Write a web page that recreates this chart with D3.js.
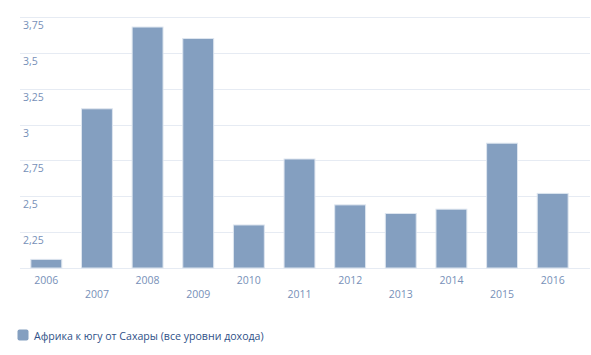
<!DOCTYPE html>
<html><head><meta charset="utf-8">
<script src="https://cdn.jsdelivr.net/npm/d3@7"></script>
<style>body{margin:0;background:#fff;} svg{display:block;font-family:"Open Sans",sans-serif;}</style>
</head><body>
<svg id="c" width="591" height="355"></svg>
<script>
const years = ["2006","2007","2008","2009","2010","2011","2012","2013","2014","2015","2016"];
const values = [2.06, 3.11, 3.68, 3.60, 2.30, 2.76, 2.44, 2.38, 2.41, 2.87, 2.52];
const yTicks = [2.25, 2.5, 2.75, 3, 3.25, 3.5, 3.75];
const seriesName = "Африка к югу от Сахары (все уровни дохода)";

const svg = d3.select("#c");
const y = d3.scaleLinear().domain([2, 3.75]).range([268, 17]);
const x = d3.scaleBand().domain(years).range([21, 578]).paddingInner(0.39).paddingOuter(0.195);
const fmt = v => String(v).replace(".", ",");

// grid
svg.append("g").selectAll("line").data(yTicks.concat([2])).join("line")
  .attr("x1", 20).attr("x2", 590)
  .attr("y1", d => Math.round(y(d)) + 0.5).attr("y2", d => Math.round(y(d)) + 0.5)
  .attr("stroke", "#e6ebf3").attr("stroke-width", 1);

// y labels
svg.append("g").selectAll("text").data(yTicks).join("text")
  .attr("x", 23).attr("y", d => y(d) + 12)
  .attr("font-size", 10.5).attr("fill", "#7790b8")
  .text(fmt);

// bars
svg.append("g").selectAll("rect").data(values).join("rect")
  .attr("x", (d, i) => x(years[i]))
  .attr("width", x.bandwidth())
  .attr("y", d => y(d))
  .attr("height", d => y(2) - y(d))
  .attr("fill", "#849fc0").attr("stroke", "#dde5ef").attr("stroke-width", 1);

// x labels staggered
svg.append("g").selectAll("text").data(years).join("text")
  .attr("x", d => x(d) + x.bandwidth() / 2)
  .attr("y", (d, i) => i % 2 === 0 ? 284 : 298)
  .attr("text-anchor", "middle")
  .attr("font-size", 10.5).attr("fill", "#7790b8")
  .text(d => d);

// legend
const lg = svg.append("g");
lg.append("rect").attr("x", 17.5).attr("y", 329.5).attr("width", 11).attr("height", 11)
  .attr("rx", 2).attr("fill", "#849fc0");
lg.append("text").attr("x", 34).attr("y", 339.5).attr("font-size", 10.6).attr("fill", "#2f5188")
  .text(seriesName);
</script>
</body></html>
